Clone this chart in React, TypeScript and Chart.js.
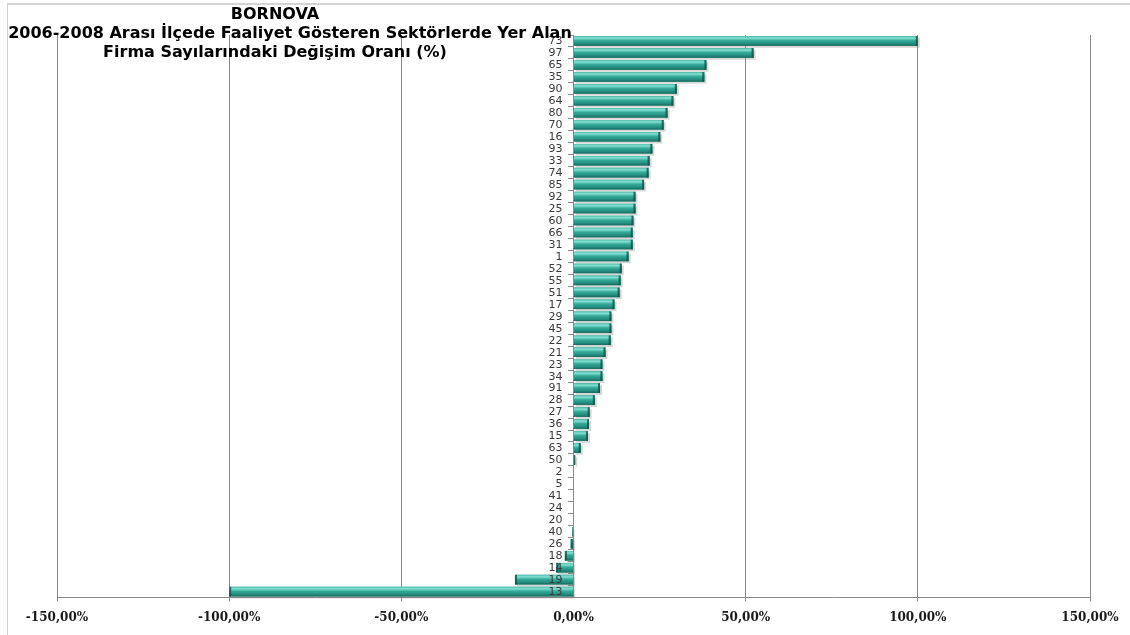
import React, { useEffect, useRef } from "react";
import { Chart, registerables } from "chart.js";

Chart.register(...registerables);

const titleLines = [
  "BORNOVA",
  "2006-2008 Arası İlçede Faaliyet Gösteren Sektörlerde Yer Alan",
  "Firma Sayılarındaki Değişim Oranı (%)",
];

const categories = [
  "73", "97", "65", "35", "90", "64", "80", "70", "16", "93",
  "33", "74", "85", "92", "25", "60", "66", "31", "1", "52",
  "55", "51", "17", "29", "45", "22", "21", "23", "34", "91",
  "28", "27", "36", "15", "63", "50", "2", "5", "41", "24",
  "20", "40", "26", "18", "14", "19", "13",
];

const values = [
  100, 52.3, 38.6, 38.0, 30.0, 29.0, 27.3, 26.2, 25.2, 22.9,
  22.1, 21.8, 20.5, 18.0, 18.0, 17.4, 17.2, 17.2, 16.0, 14.0,
  13.7, 13.4, 11.9, 11.0, 11.0, 10.8, 9.3, 8.4, 8.4, 7.7,
  6.2, 4.7, 4.5, 4.2, 2.1, 0.5, 0, 0, 0, 0,
  0, -0.3, -0.8, -2.5, -5.0, -17.0, -100,
];

const xMin = -150;
const xMax = 150;
const xStep = 50;

const fmtPct = (v: number) => v.toFixed(2).replace(".", ",") + "%";

const barStylePlugin = {
  id: "barStyle",
  beforeDatasetsDraw(chart: any) {
    const ctx = chart.ctx;
    const meta = chart.getDatasetMeta(0);
    ctx.save();
    meta.data.forEach((el: any) => {
      const { x, y, base, height } = el.getProps(["x", "y", "base", "height"], true);
      const l = Math.min(x, base);
      const r = Math.max(x, base);
      if (r - l < 0.5) return;
      ctx.fillStyle = "rgba(120,120,120,0.3)";
      ctx.fillRect(l + 2, y - height / 2 + 2, r - l, height);
    });
    ctx.restore();
  },
  afterDatasetsDraw(chart: any) {
    const ctx = chart.ctx;
    const meta = chart.getDatasetMeta(0);
    ctx.save();
    meta.data.forEach((el: any) => {
      const { x, y, base, height } = el.getProps(["x", "y", "base", "height"], true);
      const l = Math.min(x, base);
      const r = Math.max(x, base);
      if (r - l < 0.5) return;
      const top = y - height / 2;
      const g = ctx.createLinearGradient(0, top, 0, top + height);
      g.addColorStop(0, "#4cbcac");
      g.addColorStop(0.2, "#84e0d2");
      g.addColorStop(0.45, "#36ab9b");
      g.addColorStop(0.8, "#228a7c");
      g.addColorStop(1, "#18675c");
      ctx.fillStyle = g;
      ctx.fillRect(l, top, r - l, height);
      ctx.fillStyle = "rgba(15,80,70,0.8)";
      const cap = Math.min(2, r - l);
      if (x >= base) ctx.fillRect(r - cap, top, cap, height);
      else ctx.fillRect(l, top, cap, height);
    });
    ctx.restore();
  },
};

const labelPlugin = {
  id: "yLabels",
  afterDraw(chart: any) {
    const ctx = chart.ctx;
    const yScale = chart.scales.y;
    const xScale = chart.scales.x;
    const x0 = xScale.getPixelForValue(0);
    ctx.save();
    ctx.fillStyle = "#3a3a3a";
    ctx.font = "11px 'DejaVu Sans'";
    ctx.textAlign = "right";
    ctx.textBaseline = "middle";
    categories.forEach((c, i) => {
      ctx.fillText(c, x0 - 11, yScale.getPixelForValue(i) + 0.5);
    });
    ctx.restore();
  },
};

const titlePlugin = {
  id: "customTitle",
  afterDraw(chart: any) {
    const ctx = chart.ctx;
    ctx.save();
    ctx.fillStyle = "#000";
    ctx.textAlign = "center";
    ctx.textBaseline = "middle";
    ctx.font = "bold 16px 'DejaVu Sans'";
    ctx.fillText(titleLines[0], 275, 15);
    ctx.fillText(titleLines[1], 290, 34, 566);
    ctx.fillText(titleLines[2], 275, 53);
    ctx.restore();
  },
};

export default function App() {
  const canvasRef = useRef<HTMLCanvasElement | null>(null);

  useEffect(() => {
    document.body.style.margin = "0";
    const canvas = canvasRef.current;
    if (!canvas) return;
    const chart = new Chart(canvas, {
      type: "bar",
      data: {
        labels: categories,
        datasets: [
          {
            data: values,
            backgroundColor: "#2f9c8d",
            borderWidth: 0,
            barPercentage: 0.8,
            categoryPercentage: 1,
          },
        ],
      },
      options: {
        indexAxis: "y",
        animation: false,
        responsive: false,
        maintainAspectRatio: false,
        layout: { padding: { left: 57, right: 40, top: 35, bottom: 1 } },
        plugins: {
          legend: { display: false },
          title: { display: false },
          tooltip: { enabled: false },
        },
        scales: {
          x: {
            type: "linear",
            min: xMin,
            max: xMax,
            position: "bottom",
            ticks: {
              stepSize: xStep,
              padding: 9,
              color: "#1a1a1a",
              font: { family: "'DejaVu Serif'", size: 12, weight: "bold" },
              callback: (v: any) => fmtPct(Number(v)),
            },
            grid: {
              color: (c: any) => (c.tick && c.tick.value === 0 ? "rgba(0,0,0,0)" : "#8a8a8a"),
              lineWidth: 1,
              tickLength: 4,
              drawTicks: true,
            },
            border: { display: true, color: "#8a8a8a" },
          },
          y: {
            type: "category",
            position: { x: 0 } as any,
            ticks: {
              display: false,
              autoSkip: false,
            },
            grid: {
              drawOnChartArea: false,
              drawTicks: true,
              tickLength: 5,
              color: "#8a8a8a",
              offset: true,
            },
            border: { display: true, color: "#8a8a8a" },
          },
        },
      },
      plugins: [barStylePlugin, labelPlugin, titlePlugin],
    });
    return () => chart.destroy();
  }, []);

  return (
    <div style={{ position: "absolute", left: 0, top: 0, width: 1130, height: 635, background: "#fff" }}>
      <div
        style={{
          position: "absolute",
          left: 7,
          top: 3,
          width: 1130,
          height: 640,
          borderLeft: "1px solid #cfcfcf",
          borderTop: "2px solid #d4d4d4",
        }}
      />
      <canvas ref={canvasRef} width={1130} height={635} style={{ position: "absolute", left: 0, top: 0 }} />
    </div>
  );
}
